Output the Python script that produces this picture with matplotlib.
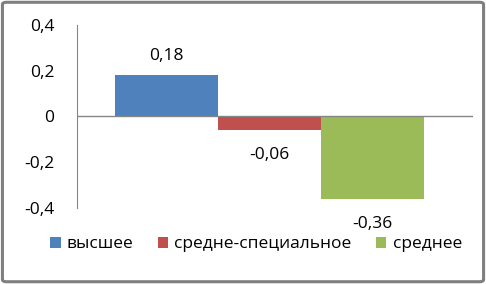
import numpy as np
import matplotlib.pyplot as plt
from matplotlib.patches import FancyBboxPatch
from matplotlib.ticker import FuncFormatter

categories = ['высшее', 'средне-специальное', 'среднее']
values = [0.18, -0.06, -0.36]
colors = ['#4F81BD', '#C0504D', '#9BBB59']
yticks = [-0.4, -0.2, 0, 0.2, 0.4]

plt.rcParams['font.family'] = ['Open Sans', 'DejaVu Sans']
fs = 12.5

fig = plt.figure(figsize=(4.86, 2.84), dpi=100)
ax = fig.add_axes([0.158, 0.268, 0.815, 0.644])

x = np.arange(len(categories)) - 1
bars = ax.bar(x, values, width=1.0, color=colors, label=categories, zorder=2)

for xi, v in zip(x, values):
    off = 14 if v > 0 else -18
    ax.annotate(f'{v:.2f}'.replace('.', ','), (xi, v), xytext=(0, off),
                textcoords='offset points', ha='center', va='center', fontsize=fs)

ax.axhline(0, color='#868686', lw=1, zorder=3)
ax.set_xlim(-1.869, 1.976)
ax.set_ylim(-0.4, 0.4)
ax.set_yticks(yticks)
ax.yaxis.set_major_formatter(FuncFormatter(lambda v, p: '0' if abs(v) < 1e-9 else f'{v:.1f}'.replace('.', ',')))
ax.tick_params(axis='y', length=0, pad=16, labelsize=fs)
ax.set_xticks([])
for s in ['top', 'right', 'bottom']:
    ax.spines[s].set_visible(False)
ax.spines['left'].set_color('#868686')

fig.legend(handles=bars, labels=categories, loc='center', bbox_to_anchor=(0.527, 0.14),
           ncol=3, frameon=False, fontsize=fs, handlelength=0.6, handleheight=0.6,
           handletextpad=0.35, columnspacing=1.4, borderaxespad=0)

border = FancyBboxPatch((0.005, 0.008), 0.99, 0.984, boxstyle='round,pad=0,rounding_size=0.008',
                        transform=fig.transFigure, fill=False, edgecolor='#7f7f7f', lw=2.2)
fig.patches.append(border)

fig.savefig('out.png', dpi=100)
